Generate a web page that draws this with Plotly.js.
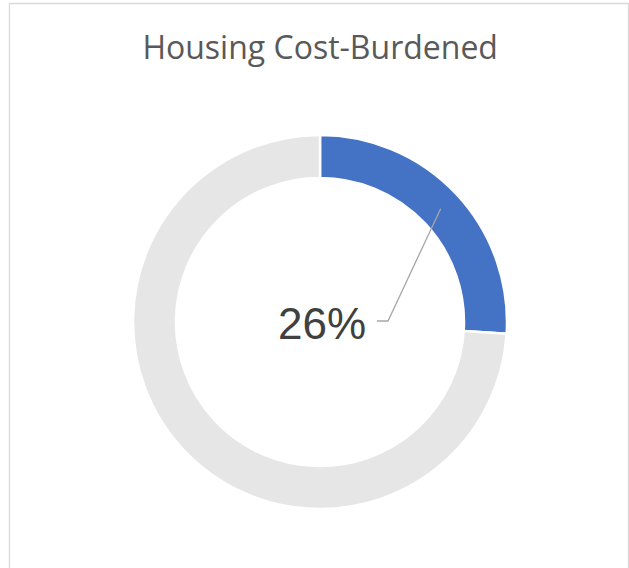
<!DOCTYPE html>
<html>
<head>
<meta charset="utf-8">
<script src="https://cdn.plot.ly/plotly-3.0.1.min.js"></script>
<style>
html,body{margin:0;padding:0;background:#fff;}
#chart{width:629px;height:568px;}
</style>
</head>
<body>
<div id="chart"></div>
<script>
// Data
const categories = ["Cost-burdened", "Not cost-burdened"];
const values = [26, 74];
const sliceColors = ["#4472C4", "#E6E6E6"];
const chartTitle = "Housing Cost-Burdened";
const labelText = "26%";

const W = 629, H = 568;
const cx = 320, cy = 322, rOut = 187, hole = 0.77;
const dom = {
  x: [(cx - rOut) / W, (cx + rOut) / W],
  y: [(H - cy - rOut) / H, (H - cy + rOut) / H]
};

// leader line computed from slice mid-angle
const total = values.reduce((a, b) => a + b, 0);
const midFrac = (values[0] / 2) / total;
const ang = midFrac * 2 * Math.PI; // clockwise from 12 o'clock
const rMid = rOut * (1 + hole) / 2;
const px = cx + rMid * Math.sin(ang);
const py = cy - rMid * Math.cos(ang);
const elbowX = 388, elbowY = 321, endX = 377;
const toPX = x => x / W, toPY = y => 1 - y / H;

const trace = {
  type: "pie",
  labels: categories,
  values: values,
  hole: hole,
  sort: false,
  direction: "clockwise",
  rotation: 0,
  textinfo: "none",
  hoverinfo: "label+percent",
  marker: { colors: sliceColors, line: { color: "#ffffff", width: 2.5 } },
  domain: dom,
  showlegend: false
};

const layout = {
  width: W, height: H,
  margin: { l: 0, r: 0, t: 0, b: 0 },
  paper_bgcolor: "#ffffff",
  title: {
    text: chartTitle,
    font: { family: "Open Sans, Noto Sans, sans-serif", size: 32, color: "#595959" },
    x: 0.509, xanchor: "center",
    y: 1 - 48 / H, yanchor: "middle"
  },
  shapes: [
    { type: "rect", xref: "paper", yref: "paper",
      x0: toPX(9.5), x1: toPX(628.5), y0: toPY(600), y1: toPY(3.5),
      line: { color: "#D9D9D9", width: 1.3 }, fillcolor: "rgba(0,0,0,0)" },
    { type: "path", xref: "paper", yref: "paper",
      path: "M " + toPX(px) + " " + toPY(py) + " L " + toPX(elbowX) + " " + toPY(elbowY) + " L " + toPX(endX) + " " + toPY(elbowY),
      line: { color: "#A6A6A6", width: 1.3 } }
  ],
  annotations: [
    { text: labelText, xref: "paper", yref: "paper",
      x: toPX(368), y: toPY(323), xanchor: "right", yanchor: "middle",
      showarrow: false,
      font: { family: "Liberation Sans, Arial, sans-serif", size: 44, color: "#404040" } }
  ]
};

Plotly.newPlot("chart", [trace], layout, { displayModeBar: false, staticPlot: true });
</script>
</body>
</html>
